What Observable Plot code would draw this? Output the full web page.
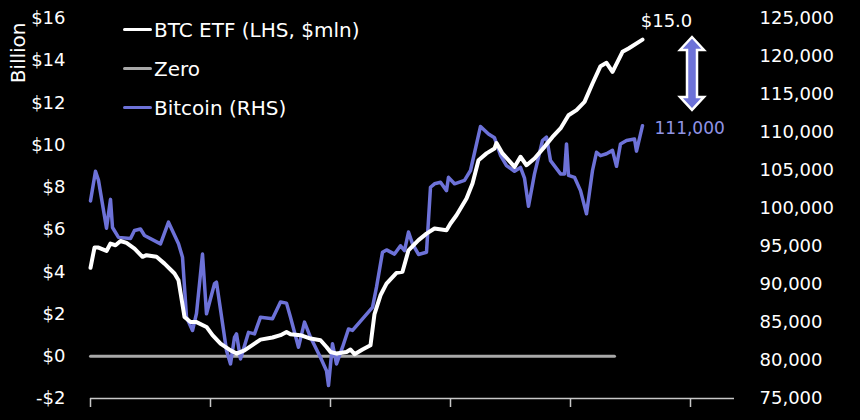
<!DOCTYPE html>
<html>
<head>
<meta charset="utf-8">
<script src="https://cdn.jsdelivr.net/npm/d3@7"></script>
<script src="https://cdn.jsdelivr.net/npm/@observablehq/plot@0.6"></script>
<style>
  html, body { margin: 0; padding: 0; background: #000; }
  #wrap { position: relative; width: 860px; height: 420px; background: #000; font-family: "DejaVu Sans", sans-serif; }
  #legend { position: absolute; left: 123px; top: 10px; color: #fff; font-size: 20px; }
  #legend .row { display: flex; align-items: center; height: 39px; }
  #legend .sw { width: 29px; height: 3.5px; margin-right: 2px; border-radius: 2px; }
  #arrow { position: absolute; left: 0; top: 0; pointer-events: none; }
</style>
</head>
<body>
<div id="wrap"></div>
<script>
// ---- Data ----
const etfDay = [0, 1, 2, 4, 5, 6.25, 7.5, 9, 11, 13, 14, 16.5, 18.5, 21, 22, 23.5, 25, 26.5, 29, 30.5, 32.5, 35, 36.5, 38.5, 41, 42.5, 45.5, 47.5, 49, 50, 52.5, 55, 57.5, 59, 60, 61.5, 64, 65, 66, 68, 70, 71, 72.5, 74, 76.5, 78, 79.5, 82, 84, 86, 89, 90, 91.5, 94, 95.5, 97, 99, 101, 101.5, 103, 106, 107.5, 109, 111, 113.5, 115.5, 117.5, 119.5, 121.5, 123.5, 125.5, 127.5, 129, 130.5, 133, 134.5, 138];
const etfFlow = [4.19, 5.15, 5.15, 4.99, 5.34, 5.26, 5.46, 5.37, 5.1, 4.71, 4.79, 4.71, 4.39, 3.92, 3.6, 1.86, 1.62, 1.62, 1.39, 1.0, 0.6, 0.28, 0.13, 0.28, 0.6, 0.79, 0.89, 1.0, 1.15, 1.04, 1.0, 0.84, 0.76, 0.44, 0.2, 0.13, 0.2, 0.32, 0.1, 0.32, 0.52, 2.0, 2.89, 3.44, 3.95, 4.0, 5.02, 5.5, 5.81, 6.05, 5.97, 6.29, 6.68, 7.47, 8.18, 9.29, 9.61, 9.84, 10.1, 9.61, 8.97, 9.45, 9.05, 9.37, 9.92, 10.39, 10.79, 11.42, 11.66, 12.05, 12.92, 13.74, 13.9, 13.47, 14.42, 14.58, 15.0];

const btcDay = [0, 1.25, 2, 4, 5, 5.5, 7, 10, 11, 12.5, 13.5, 17.5, 19.5, 22, 23, 24, 25.5, 26.5, 28, 29, 31, 31.5, 34, 35, 36, 36.5, 37.5, 39.5, 41, 42.5, 45.5, 47.5, 49, 50, 52, 53.5, 55, 57.5, 59, 59.5, 60.5, 61.5, 63, 64.5, 65.5, 70.5, 71.5, 73, 74, 76, 77.5, 78.5, 79.5, 80.5, 82, 84, 85, 86, 87.5, 89, 89.5, 91, 93.5, 95, 97.5, 99.5, 101, 102.5, 104, 106, 107.5, 108.5, 109.5, 111, 113, 114, 115, 117.5, 118.5, 119, 119.5, 121, 122.5, 124, 125.5, 126.5, 127.5, 129, 130.5, 131.5, 132.5, 134, 136, 136.5, 138];
const btcPrice = [101000, 104900, 103700, 97400, 101200, 97500, 96200, 96050, 97100, 97300, 96450, 95350, 98200, 95350, 93600, 85700, 83950, 86200, 94000, 86150, 90100, 90300, 81300, 79550, 83050, 83500, 80200, 83700, 83500, 85700, 85500, 87700, 87550, 85700, 81750, 85050, 83050, 80400, 78650, 76700, 82200, 79550, 81750, 84150, 83950, 87000, 89650, 94250, 94550, 94000, 95100, 94450, 96900, 95350, 93950, 94250, 102800, 103250, 103450, 102350, 104100, 103250, 103700, 105000, 110800, 109800, 109300, 107000, 105650, 104900, 105400, 104000, 100300, 104550, 108950, 109400, 106300, 104550, 104550, 108500, 104350, 104100, 102350, 99300, 105000, 107400, 106950, 107200, 107650, 105550, 108500, 108950, 109150, 107550, 110900];

const zeroDay = [0, 131];
const zeroVal = [0, 0];

const leftTicks = [-2, 0, 2, 4, 6, 8, 10, 12, 14, 16];
const rightTicks = [75000, 80000, 85000, 90000, 95000, 100000, 105000, 110000, 115000, 120000, 125000];
const xTicks = [0, 30, 60, 90, 120, 150];
const xDomain = [0, 161];

const legendItems = ["BTC ETF (LHS, $mln)", "Zero", "Bitcoin (RHS)"];
const legendColors = ["#ffffff", "#a8a8a8", "#6d72d8"];
const etfLabel = "$15.0";
const btcLabel = "111,000";
const arrowTopLeft = 15.1;       // LHS value at arrow tip
const arrowBottomRight = 112900; // RHS value at arrow tip
const arrowDay = 150.5;

// ---- helpers ----
const lDom = [leftTicks[0], leftTicks[leftTicks.length - 1]];
const rDom = [rightTicks[0], rightTicks[rightTicks.length - 1]];
const toLeft = v => lDom[0] + (v - rDom[0]) * (lDom[1] - lDom[0]) / (rDom[1] - rDom[0]);
const toRight = v => rDom[0] + (v - lDom[0]) * (rDom[1] - rDom[0]) / (lDom[1] - lDom[0]);

const etf = etfDay.map((d, i) => ({day: d, v: etfFlow[i]}));
const btc = btcDay.map((d, i) => ({day: d, v: btcPrice[i]}));
const zero = zeroDay.map((d, i) => ({day: d, v: zeroVal[i]}));
const etfLast = etf[etf.length - 1];
const btcLast = btc[btc.length - 1];

const PURPLE = "#6d72d8";
const FONT = "'DejaVu Sans', sans-serif";

const chart = Plot.plot({
  width: 860,
  height: 420,
  marginLeft: 90,
  marginRight: 126,
  marginTop: 18,
  marginBottom: 22,
  x: {domain: xDomain},
  y: {domain: lDom},
  style: {background: "#000", color: "#fff", fontFamily: FONT, fontSize: "18px"},
  marks: [
    Plot.axisY({ticks: leftTicks, tickSize: 0, tickPadding: 25, label: null,
      tickFormat: d => (d < 0 ? "-$" : "$") + Math.abs(d)}),
    Plot.axisY({anchor: "right", ticks: rightTicks.map(toLeft), tickSize: 0, tickPadding: 25, label: null,
      tickFormat: d => d3.format(",")(Math.round(toRight(d) / 1000) * 1000)}),
    Plot.text(["Billion"], {frameAnchor: "top-left", text: d => d, rotate: -90, textAnchor: "end",
      dx: -80, dy: 4, fill: "#fff", fontSize: 20}),
    Plot.ruleY([lDom[0]], {stroke: "#c8c8c8", strokeWidth: 1.5}),
    Plot.axisX({ticks: xTicks, tickFormat: () => "", tickSize: 9, stroke: "#c8c8c8", strokeWidth: 1.5, label: null}),
    Plot.line(zero, {x: "day", y: "v", stroke: "#a8a8a8", strokeWidth: 3}),
    Plot.line(btc, {x: "day", y: d => toLeft(d.v), stroke: PURPLE, strokeWidth: 3.5, strokeLinejoin: "round"}),
    Plot.line(etf, {x: "day", y: "v", stroke: "#fff", strokeWidth: 4, strokeLinejoin: "round"}),
    Plot.text([etfLast], {x: "day", y: "v", text: () => etfLabel, dx: 24, dy: -18, fill: "#fff", fontSize: 18, textAnchor: "middle"}),
    Plot.text([btcLast], {x: "day", y: d => toLeft(d.v), text: () => btcLabel, dx: 12, dy: 3, fill: "#9094e6", fontSize: 17, textAnchor: "start"})
  ]
});

const wrap = document.getElementById("wrap");
wrap.appendChild(chart);

// legend
const leg = document.createElement("div");
leg.id = "legend";
legendItems.forEach((t, i) => {
  const row = document.createElement("div");
  row.className = "row";
  const sw = document.createElement("div");
  sw.className = "sw";
  sw.style.background = legendColors[i];
  const tx = document.createElement("span");
  tx.textContent = t;
  row.appendChild(sw);
  row.appendChild(tx);
  leg.appendChild(row);
});
wrap.appendChild(leg);

// double-headed arrow, positioned through the chart's scales
const xs = chart.scale("x"), ys = chart.scale("y");
const cx = xs.apply(arrowDay);
const ty = ys.apply(arrowTopLeft);
const by = ys.apply(toLeft(arrowBottomRight));
const hw = 12, hh = 13, sw2 = 5;
const pts = [[cx, ty], [cx + hw, ty + hh], [cx + sw2, ty + hh], [cx + sw2, by - hh], [cx + hw, by - hh], [cx, by],
  [cx - hw, by - hh], [cx - sw2, by - hh], [cx - sw2, ty + hh], [cx - hw, ty + hh]];
const svgNS = "http://www.w3.org/2000/svg";
const asvg = document.createElementNS(svgNS, "svg");
asvg.setAttribute("id", "arrow");
asvg.setAttribute("width", 860);
asvg.setAttribute("height", 420);
const poly = document.createElementNS(svgNS, "polygon");
poly.setAttribute("points", pts.map(p => p.join(",")).join(" "));
poly.setAttribute("fill", PURPLE);
poly.setAttribute("stroke", "#fff");
poly.setAttribute("stroke-width", "2.5");
poly.setAttribute("stroke-linejoin", "miter");
asvg.appendChild(poly);
wrap.appendChild(asvg);
</script>
</body>
</html>
